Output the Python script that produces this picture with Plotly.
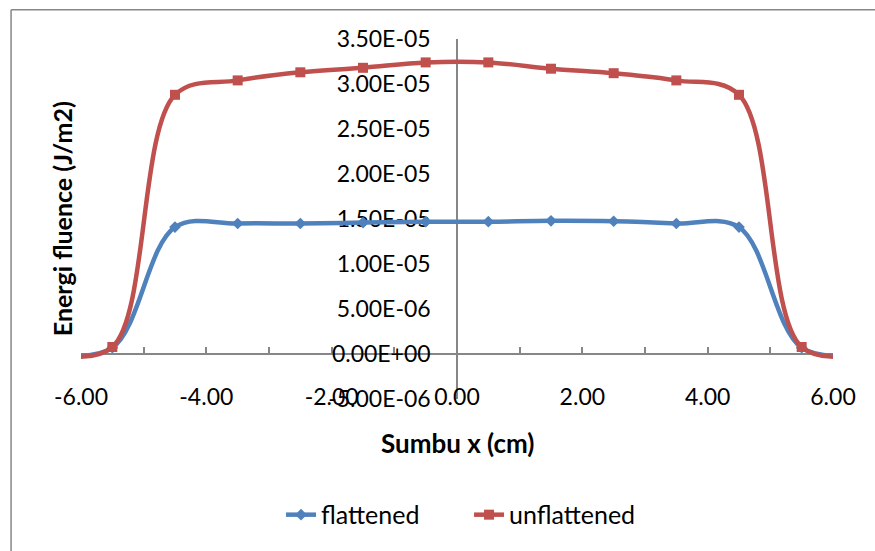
import plotly.graph_objects as go

# Position across the field (cm) and energy fluence (J/m2) for both beams
x_cm = [-6.5, -5.5, -4.5, -3.5, -2.5, -1.5, -0.5, 0.5, 1.5, 2.5, 3.5, 4.5, 5.5, 6.5]
flattened = [0.0, 7.0e-07, 1.41e-05, 1.45e-05, 1.45e-05, 1.46e-05, 1.47e-05,
             1.47e-05, 1.48e-05, 1.475e-05, 1.45e-05, 1.41e-05, 7.0e-07, 0.0]
unflattened = [0.0, 7.8e-07, 2.88e-05, 3.04e-05, 3.13e-05, 3.18e-05, 3.24e-05,
               3.24e-05, 3.17e-05, 3.12e-05, 3.04e-05, 2.88e-05, 7.8e-07, 0.0]

x_tick_vals = [-6, -4, -2, 0, 2, 4, 6]
x_tick_text = ["-6.00", "-4.00", "-2.00", "0.00", "2.00", "4.00", "6.00"]
y_tick_vals = [-5e-06, 0.0, 5e-06, 1e-05, 1.5e-05, 2e-05, 2.5e-05, 3e-05, 3.5e-05]
y_tick_text = ["-5.00E-06", "0.00E+00", "5.00E-06", "1.00E-05", "1.50E-05",
               "2.00E-05", "2.50E-05", "3.00E-05", "3.50E-05"]

X_RANGE = [-6, 6]
Y_RANGE = [-5e-06, 3.5e-05]

FONT = "Lato, 'Open Sans', sans-serif"
AXIS_GREY = "#868686"
BLUE = "#4f81bd"
RED = "#c0504d"

fig = go.Figure()
fig.add_trace(go.Scatter(
    x=x_cm, y=flattened, name="flattened", mode="lines+markers",
    xaxis="x", yaxis="y",
    line=dict(color=BLUE, width=4.5, shape="spline", smoothing=1.0),
    marker=dict(symbol="diamond", size=9, color=BLUE),
))
fig.add_trace(go.Scatter(
    x=x_cm, y=unflattened, name="unflattened", mode="lines+markers",
    xaxis="x2", yaxis="y",
    line=dict(color=RED, width=4.5, shape="spline", smoothing=1.0),
    marker=dict(symbol="square", size=10, color=RED),
))

# Horizontal axis line crossing the value axis at y = 0
zero_pos = (0 - Y_RANGE[0]) / (Y_RANGE[1] - Y_RANGE[0])

fig.update_layout(
    width=875, height=551,
    margin=dict(l=81, r=42, t=39, b=152),
    paper_bgcolor="white", plot_bgcolor="white",
    font=dict(family=FONT, size=23, color="#000000"),
    xaxis=dict(
        range=X_RANGE, anchor="free", position=zero_pos, layer="below traces",
        showgrid=False, zeroline=False,
        showline=True, linecolor=AXIS_GREY, linewidth=1.5,
        ticks="inside", ticklen=6, tickcolor=AXIS_GREY, tickwidth=1.5,
        dtick=1, tick0=-6, showticklabels=False,
    ),
    xaxis2=dict(
        range=X_RANGE, matches="x", overlaying="x", anchor="free", position=0.05,
        showgrid=False, zeroline=False, showline=False, ticks="",
        tickmode="array", tickvals=x_tick_vals, ticktext=x_tick_text,
    ),
    yaxis=dict(
        range=Y_RANGE, anchor="free", position=0.5, layer="below traces",
        showgrid=False, zeroline=False,
        showline=True, linecolor=AXIS_GREY, linewidth=1.5, ticks="",
        tickmode="array", tickvals=y_tick_vals, ticktext=y_tick_text,
        ticklabelstandoff=21,
    ),
    legend=dict(
        orientation="h", x=0.516, xanchor="center", y=-0.322, yanchor="middle",
        font=dict(size=25), bgcolor="rgba(0,0,0,0)", traceorder="normal",
        entrywidth=143,
    ),
    annotations=[
        dict(text="<b>Sumbu x (cm)</b>", xref="paper", yref="paper",
             x=0.5, y=-0.122, xanchor="center", yanchor="middle",
             showarrow=False, font=dict(size=26)),
        dict(text="<b>Energi fluence (J/m2)</b>", xref="paper", yref="paper",
             x=-0.025, y=0.5, xanchor="center", yanchor="middle", textangle=-90,
             showarrow=False, font=dict(size=25)),
    ],
    shapes=[
        # chart-area frame: top and left edges
        dict(type="line", xref="paper", yref="paper",
             x0=-0.093, x1=1.3, y0=1.081, y1=1.081,
             line=dict(color=AXIS_GREY, width=1.5), layer="below"),
        dict(type="line", xref="paper", yref="paper",
             x0=-0.093, x1=-0.093, y0=1.081, y1=-0.6,
             line=dict(color=AXIS_GREY, width=1.5), layer="below"),
    ],
)

# page styling: no margins and no scrollbars around the figure
PAGE_CSS = (
    "html,body{margin:0!important;padding:0!important;overflow:hidden!important;}"
    "::-webkit-scrollbar{display:none;width:0;height:0;}"
)
fig.write_html(
    "out.html",
    post_script=(
        "var s=document.createElement('style');"
        "s.textContent=" + repr(PAGE_CSS) + ";"
        "document.head.appendChild(s);"
    ),
)
